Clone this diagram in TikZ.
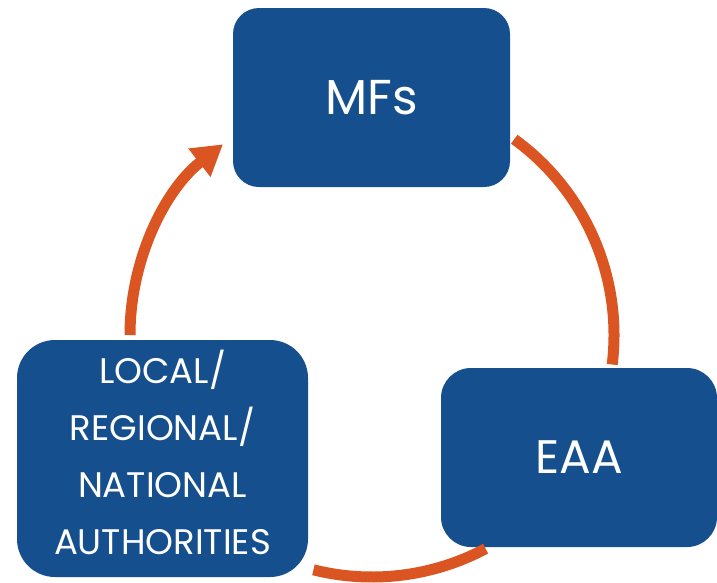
\documentclass[tikz,border=0pt]{standalone}
\usepackage{fontspec}
\setmainfont{Poppins}
\usetikzlibrary{arrows.meta}
\definecolor{boxblue}{RGB}{22,79,142}
\definecolor{arcorange}{RGB}{218,85,33}
\begin{document}
\begin{tikzpicture}[x=1pt,y=-1pt,
  box/.style={fill=boxblue,draw=none,text=white,align=center,inner sep=0pt},
  cyc/.style={draw=arcorange,line width=11pt}]
\useasboundingbox (0,0) rectangle (717,582);
\node[box,rounded corners=26pt,minimum width=277pt,minimum height=179pt,font=\fontsize{49}{56}\selectfont] (mfs) at (371.5,97.5) {MFs};
\node[box,rounded corners=30pt,minimum width=276pt,minimum height=179pt,font=\fontsize{47}{54}\selectfont] (eaa) at (579,457.5) {EAA};
\node[box,rounded corners=38pt,minimum width=291pt,minimum height=237pt] (auth) at (162.5,458.5) {};
\node[text=white,align=center,inner sep=0pt,font=\fontsize{35.5}{57}\selectfont] (authtext) at ([yshift=6pt]auth.center) {LOCAL/\\REGIONAL/\\NATIONAL\\AUTHORITIES};
\coordinate (c) at (372,335);
\draw[cyc,-{Triangle[length=30pt,width=34pt]}] ([shift={(c)}]180:242) arc[start angle=180,end angle=232,radius=242];
\draw[cyc] ([shift={(c)}]-54:242) arc[start angle=-54,end angle=7,radius=242];
\draw[cyc] ([shift={(c)}]62:242) arc[start angle=62,end angle=104,radius=242];
\end{tikzpicture}
\end{document}
